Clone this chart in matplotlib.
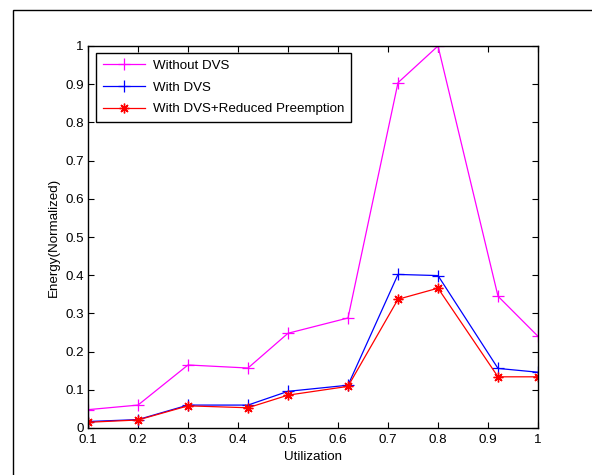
import numpy as np
import matplotlib
matplotlib.use('Agg')
import matplotlib.pyplot as plt
from matplotlib.ticker import FuncFormatter
from matplotlib.patches import Rectangle

# data
utilization = [0.1, 0.2, 0.3, 0.42, 0.5, 0.62, 0.72, 0.8, 0.92, 1.0]
without_dvs = [0.048, 0.060, 0.165, 0.157, 0.248, 0.288, 0.904, 1.0, 0.345, 0.240]
with_dvs = [0.017, 0.022, 0.060, 0.060, 0.096, 0.112, 0.402, 0.399, 0.156, 0.146]
with_dvs_rp = [0.015, 0.021, 0.058, 0.053, 0.086, 0.109, 0.337, 0.366, 0.134, 0.134]

series_names = ['Without DVS', 'With DVS', 'With DVS+Reduced Preemption']
x_ticks = [0.1, 0.2, 0.3, 0.4, 0.5, 0.6, 0.7, 0.8, 0.9, 1.0]
y_ticks = [0, 0.1, 0.2, 0.3, 0.4, 0.5, 0.6, 0.7, 0.8, 0.9, 1.0]

plt.rcParams['font.family'] = ['Liberation Sans', 'DejaVu Sans']
plt.rcParams['font.size'] = 9.6

fig = plt.figure(figsize=(5.92, 4.75), dpi=100)
ax = fig.add_axes([88 / 592, 47 / 475, 450 / 592, 382 / 475])

# outer frame of the screenshot
fig.patches.append(Rectangle((13 / 592, -0.1), 1.2, (475 - 10) / 475 + 0.1,
                             transform=fig.transFigure, fill=False,
                             edgecolor='black', linewidth=1.0))

ax.plot(utilization, without_dvs, color='#ff00ff', marker='+', markersize=8,
        markeredgewidth=0.9, linewidth=0.9, label=series_names[0])
ax.plot(utilization, with_dvs, color='#0000ff', marker='+', markersize=8,
        markeredgewidth=0.9, linewidth=0.9, label=series_names[1])
ax.plot(utilization, with_dvs_rp, color='#ff0000', marker=(8, 2, 0), markersize=7,
        markeredgewidth=1.0, linewidth=0.9, label=series_names[2])

ax.set_xlim(0.1, 1.0)
ax.set_ylim(0, 1.0)
ax.set_xticks(x_ticks)
ax.set_yticks(y_ticks)
fmt = FuncFormatter(lambda v, p: '%g' % round(v, 2))
ax.xaxis.set_major_formatter(fmt)
ax.yaxis.set_major_formatter(fmt)
ax.tick_params(direction='in', length=4, width=0.8, top=True, right=True, pad=3)
ax.tick_params(axis='x', pad=4)
for s in ax.spines.values():
    s.set_linewidth(1.0)

ax.set_xlabel('Utilization', labelpad=4)
ax.set_ylabel('Energy(Normalized)', labelpad=4)

leg = ax.legend(loc='upper left', bbox_to_anchor=(0.018, 0.982), numpoints=1,
                fancybox=False, edgecolor='black', framealpha=1,
                handlelength=3.2, handletextpad=0.55, borderpad=0.5,
                labelspacing=0.7, borderaxespad=0)
leg.get_frame().set_linewidth(1.0)

fig.savefig('out.png', dpi=100)
